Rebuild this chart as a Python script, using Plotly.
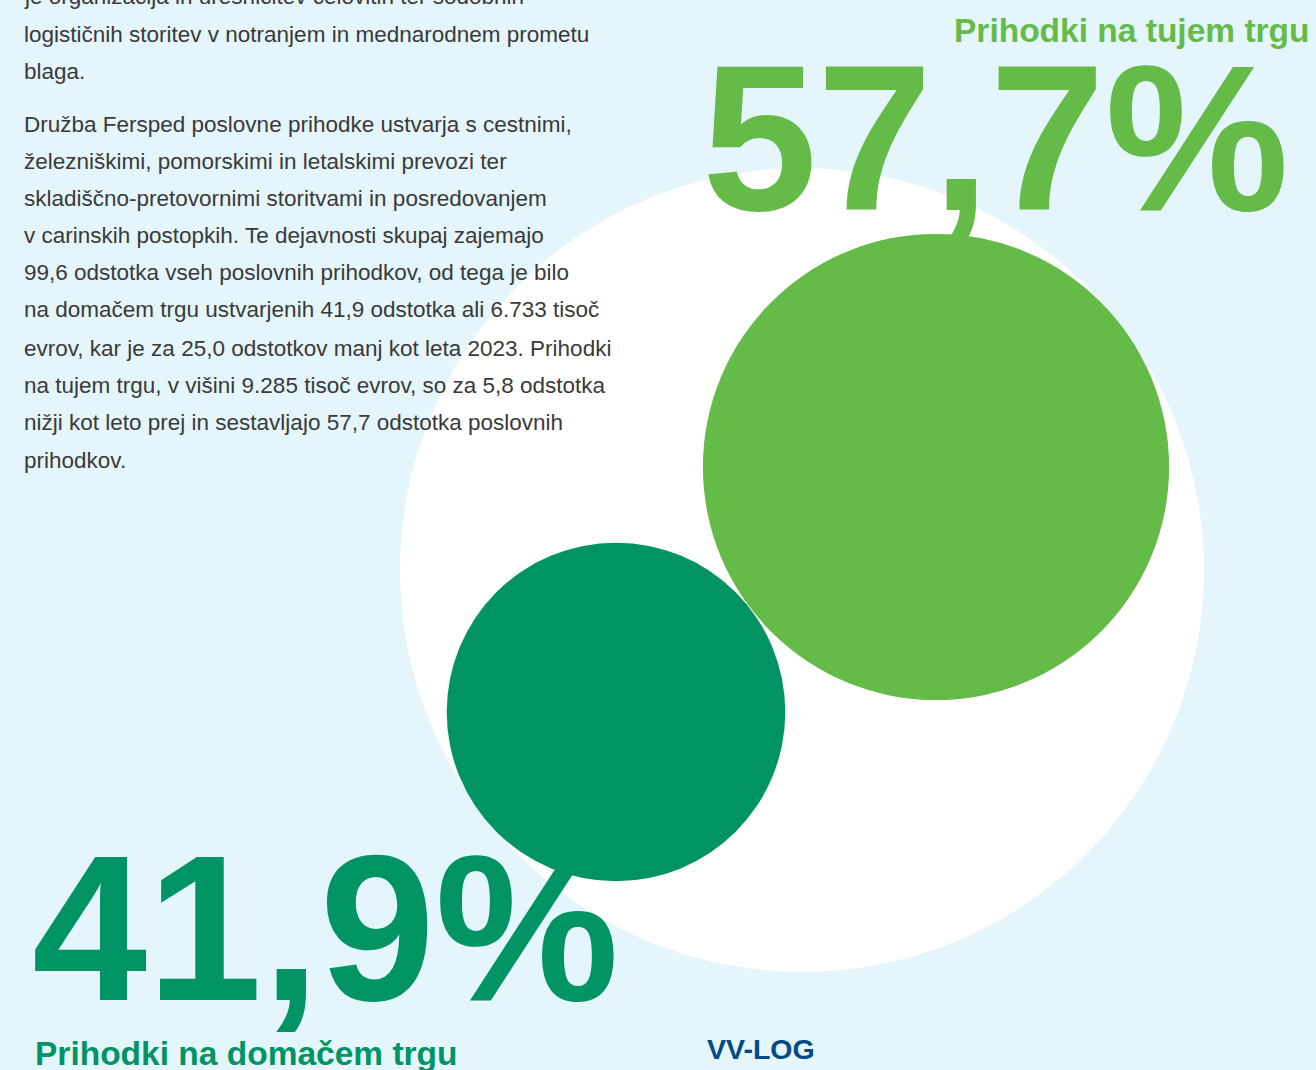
import plotly.graph_objects as go

# ---- data ----
categories = ["Prihodki na domačem trgu", "Prihodki na tujem trgu"]
shares = [41.9, 57.7]
share_labels = ["41,9%", "57,7%"]
colors = ["#009464", "#64BB48"]

body_lines = [
    "je organizacija in uresničitev celovitih ter sodobnih",
    "logističnih storitev v notranjem in mednarodnem prometu",
    "blaga.",
    "Družba Fersped poslovne prihodke ustvarja s cestnimi,",
    "železniškimi, pomorskimi in letalskimi prevozi ter",
    "skladiščno-pretovornimi storitvami in posredovanjem",
    "v carinskih postopkih. Te dejavnosti skupaj zajemajo",
    "99,6 odstotka vseh poslovnih prihodkov, od tega je bilo",
    "na domačem trgu ustvarjenih 41,9 odstotka ali 6.733 tisoč",
    "evrov, kar je za 25,0 odstotkov manj kot leta 2023. Prihodki",
    "na tujem trgu, v višini 9.285 tisoč evrov, so za 5,8 odstotka",
    "nižji kot leto prej in sestavljajo 57,7 odstotka poslovnih",
    "prihodkov.",
]
footer_label = "VV-LOG"

# ---- layout constants ----
W, H = 1316, 1070
BG = "#E4F5FC"
PX_PER_PCT = 4.04  # bubble radius in px per percentage point
centers = [(616, 712), (936, 467)]
FONT = "Liberation Sans"

fig = go.Figure()

# white background disc
fig.add_shape(type="circle", xref="x", yref="y",
              x0=802 - 402, x1=802 + 402, y0=570 - 402, y1=570 + 402,
              fillcolor="white", line_width=0, layer="below")

# bubbles (radius proportional to share)
fig.add_trace(go.Scatter(
    x=[c[0] for c in centers], y=[c[1] for c in centers],
    mode="markers",
    marker=dict(size=[2 * s * PX_PER_PCT for s in shares], sizemode="diameter",
                color=colors, opacity=1, line=dict(width=0)),
    hoverinfo="text", hovertext=[f"{c}: {l}" for c, l in zip(categories, share_labels)],
    showlegend=False, cliponaxis=False,
))

# body text (paper coords so the clipped first line is still drawn)
line_y = [-3, 34, 71, 124, 161, 198, 236, 273, 310, 348, 385, 422, 460]
for txt, yy in zip(body_lines, line_y):
    fig.add_annotation(x=22 / W, y=1 - yy / H, xref="paper", yref="paper", text=txt,
                       showarrow=False, xanchor="left", yanchor="middle",
                       font=dict(family=FONT, size=22.5, color="#3A3A3A"))

# big numbers
fig.add_annotation(x=700, y=138, text=share_labels[1], showarrow=False,
                   xanchor="left", yanchor="middle",
                   font=dict(family=FONT, size=207, color=colors[1], weight="bold"))
fig.add_annotation(x=30, y=928, text=share_labels[0], showarrow=False,
                   xanchor="left", yanchor="middle",
                   font=dict(family=FONT, size=207, color=colors[0], weight="bold"))

# category labels
fig.add_annotation(x=1312, y=30, text=categories[1], showarrow=False,
                   xanchor="right", yanchor="middle",
                   font=dict(family=FONT, size=33.5, color=colors[1], weight="bold"))
fig.add_annotation(x=33, y=1053, text=categories[0], showarrow=False,
                   xanchor="left", yanchor="middle",
                   font=dict(family=FONT, size=33.5, color=colors[0], weight="bold"))

fig.add_annotation(x=705, y=1049, text=footer_label, showarrow=False,
                   xanchor="left", yanchor="middle",
                   font=dict(family=FONT, size=28.5, color="#004A87", weight="bold"))

fig.update_layout(
    width=W, height=H, margin=dict(l=0, r=0, t=0, b=0),
    paper_bgcolor=BG, plot_bgcolor=BG,
    xaxis=dict(range=[0, W], visible=False, fixedrange=True),
    yaxis=dict(range=[H, 0], visible=False, fixedrange=True),
)

fig.write_html("out.html", config={"displayModeBar": False},
               post_script="document.body.style.margin='0';")
